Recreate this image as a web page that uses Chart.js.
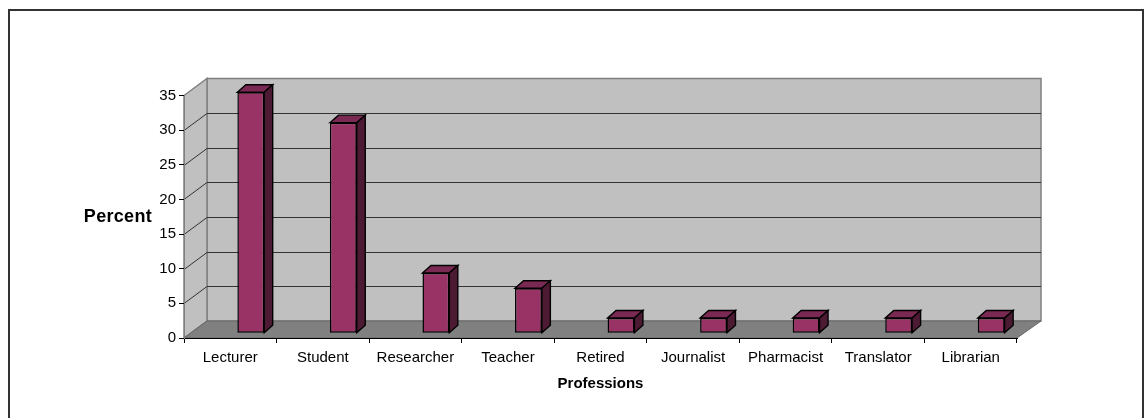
<!DOCTYPE html>
<html>
<head>
<meta charset="utf-8">
<title>Professions</title>
<script src="https://cdn.jsdelivr.net/npm/chart.js@4"></script>
<style>
  html, body { margin: 0; padding: 0; background: #fff; overflow: hidden; width: 1147px; height: 418px; }
  #myChart { position: absolute; left: 0; top: 0; }
  #frame { position: absolute; left: 8px; top: 9px; width: 1132px; height: 430px; border: 2px solid #333; box-sizing: content-box; }
</style>
</head>
<body>
<canvas id="myChart" width="1147" height="418"></canvas>
<div id="frame"></div>
<script>
// datos
const categories = ['Lecturer', 'Student', 'Researcher', 'Teacher', 'Retired', 'Journalist', 'Pharmacist', 'Translator', 'Librarian'];
const percentValues = [34.8, 30.4, 8.7, 6.5, 2.2, 2.2, 2.2, 2.2, 2.2];
const percentTicks = [0, 5, 10, 15, 20, 25, 30, 35];

const FONT = '"Liberation Sans", Arial, sans-serif';

// profundidad del efecto 3D, en pixeles
const WALL_DX = 23, WALL_DY = -17;       // pared del fondo respecto a los ejes
const BAR_DX = 20.5, BAR_DY = -4.7;      // barras dentro del piso
const SIDE_DX = 8.5, SIDE_DY = -7.5;     // cara lateral y superior de cada barra

const poly = (ctx, pts, fill, stroke, lw) => {
    ctx.beginPath();
    pts.forEach((p, i) => i ? ctx.lineTo(p[0], p[1]) : ctx.moveTo(p[0], p[1]));
    ctx.closePath();
    if (fill) { ctx.fillStyle = fill; ctx.fill(); }
    if (stroke) { ctx.strokeStyle = stroke; ctx.lineWidth = lw || 1; ctx.stroke(); }
};

// paredes, piso y lineas de la cuadricula
const wallsPlugin = {
    id: 'walls',
    beforeDraw(chart) {
        const { ctx, chartArea: a, scales: { y } } = chart;
        const y0 = y.getPixelForValue(0), yTop = y.getPixelForValue(35);
        const l = a.left, r = a.right;
        ctx.save();
        poly(ctx, [[l + WALL_DX, yTop + WALL_DY], [r + WALL_DX + 1, yTop + WALL_DY], [r + WALL_DX + 1, y0 + WALL_DY], [l + WALL_DX, y0 + WALL_DY]], '#c0c0c0', '#808080', 1.5);
        poly(ctx, [[l, yTop], [l + WALL_DX, yTop + WALL_DY], [l + WALL_DX, y0 + WALL_DY], [l, y0]], '#c0c0c0', '#808080', 1.5);
        poly(ctx, [[l, y0], [l + WALL_DX, y0 + WALL_DY], [r + WALL_DX + 1, y0 + WALL_DY], [r, y0]], '#808080', '#666666', 1);
        ctx.strokeStyle = '#333333';
        ctx.lineWidth = 1;
        percentTicks.forEach(v => {
            if (v === 0 || v === 35) return;
            const py = Math.round(y.getPixelForValue(v)) + 0.5;
            ctx.beginPath();
            ctx.moveTo(l, py);
            ctx.lineTo(l + WALL_DX, py + WALL_DY);
            ctx.lineTo(r + WALL_DX + 1, py + WALL_DY);
            ctx.stroke();
        });
        ctx.restore();
    }
};

// mueve las barras al piso y les agrega las caras lateral y superior
const barsPlugin = {
    id: 'bars3d',
    beforeDatasetsDraw(chart) {
        chart.ctx.save();
        chart.ctx.translate(BAR_DX, BAR_DY);
    },
    afterDatasetsDraw(chart) {
        const ctx = chart.ctx;
        chart.getDatasetMeta(0).data.forEach(bar => {
            const left = bar.x - bar.width / 2, right = bar.x + bar.width / 2;
            poly(ctx, [[left, bar.y], [left + SIDE_DX, bar.y + SIDE_DY], [right + SIDE_DX, bar.y + SIDE_DY], [right, bar.y]], '#7a2952', '#000', 1.4);
            poly(ctx, [[right, bar.y], [right + SIDE_DX, bar.y + SIDE_DY], [right + SIDE_DX, bar.base + SIDE_DY], [right, bar.base]], '#4d1a33', '#000', 1.4);
        });
        ctx.restore();
    },
    afterDraw(chart) {
        // titulo del eje y en horizontal
        const { ctx, scales: { y } } = chart;
        ctx.save();
        ctx.font = 'bold 18px ' + FONT;
        ctx.letterSpacing = '0.3px';
        ctx.fillStyle = '#000';
        ctx.textAlign = 'right';
        ctx.textBaseline = 'middle';
        ctx.fillText('Percent', 152, (y.top + y.bottom) / 2 + 0.5);
        ctx.restore();
    }
};

new Chart(document.getElementById('myChart'), {
    type: 'bar',
    data: {
        labels: categories,
        datasets: [{
            data: percentValues,
            backgroundColor: '#993366',
            borderColor: '#000',
            borderWidth: 1.5,
            borderSkipped: false,
            categoryPercentage: 1,
            barPercentage: 0.29,
            clip: false
        }]
    },
    plugins: [wallsPlugin, barsPlugin],
    options: {
        responsive: false,
        animation: false,
        layout: { padding: { top: 95.5, right: 130, left: 0, bottom: 0 } },
        plugins: { legend: { display: false }, title: { display: false }, tooltip: { enabled: false } },
        scales: {
            x: {
                afterFit: (s) => { s.height = 80; },
                grid: { drawOnChartArea: false, drawTicks: true, tickLength: 5, color: '#000', offset: true },
                border: { color: '#000', width: 1 },
                ticks: { color: '#000', font: { family: FONT, size: 15 }, padding: 6, maxRotation: 0, autoSkip: false },
                title: { display: true, text: 'Professions', color: '#000', font: { family: FONT, size: 15, weight: 'bold' }, padding: { top: 9, bottom: 25 } }
            },
            y: {
                min: 0,
                max: 35,
                afterFit: (s) => { s.width = 184; },
                afterBuildTicks: (s) => { s.ticks = percentTicks.map(v => ({ value: v })); },
                grid: { drawOnChartArea: false, drawTicks: true, tickLength: 5, color: '#000' },
                border: { color: '#808080', width: 1 },
                ticks: { color: '#000', font: { family: FONT, size: 15 }, padding: 3 }
            }
        }
    }
});
</script>
</body>
</html>
